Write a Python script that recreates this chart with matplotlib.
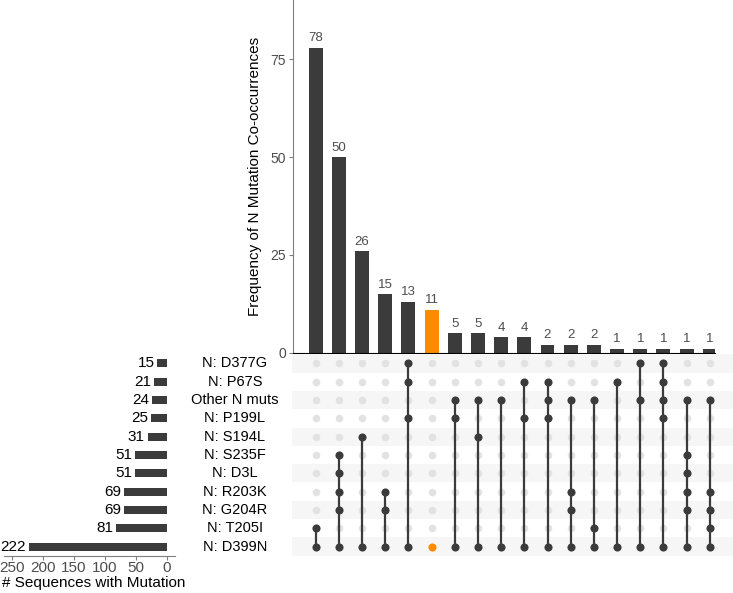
import matplotlib
matplotlib.use("Agg")
import matplotlib.pyplot as plt
import numpy as np

plt.rcParams["font.family"] = ["Liberation Sans", "DejaVu Sans"]

# set names, top row first
SETS = ["N: D377G", "N: P67S", "Other N muts", "N: P199L", "N: S194L", "N: S235F",
        "N: D3L", "N: R203K", "N: G204R", "N: T205I", "N: D399N"]
SET_SIZES = [15, 21, 24, 25, 31, 51, 51, 69, 69, 81, 222]

# intersections (sorted by frequency) and their member sets
FREQ = [78, 50, 26, 15, 13, 11, 5, 5, 4, 4, 2, 2, 2, 1, 1, 1, 1, 1]
MEMBERS = [
    ["N: T205I", "N: D399N"],
    ["N: S235F", "N: D3L", "N: R203K", "N: G204R", "N: D399N"],
    ["N: S194L", "N: D399N"],
    ["N: R203K", "N: G204R", "N: D399N"],
    ["N: D377G", "N: P67S", "N: P199L", "N: D399N"],
    ["N: D399N"],
    ["Other N muts", "N: P199L", "N: D399N"],
    ["Other N muts", "N: S194L", "N: D399N"],
    ["Other N muts", "N: D399N"],
    ["N: P67S", "N: P199L", "N: D399N"],
    ["N: P67S", "Other N muts", "N: P199L", "N: D399N"],
    ["Other N muts", "N: R203K", "N: G204R", "N: D399N"],
    ["Other N muts", "N: T205I", "N: D399N"],
    ["N: P67S", "N: D399N"],
    ["N: D377G", "Other N muts", "N: D399N"],
    ["N: D377G", "N: P67S", "Other N muts", "N: P199L", "N: D399N"],
    ["Other N muts", "N: S235F", "N: D3L", "N: R203K", "N: G204R", "N: D399N"],
    ["Other N muts", "N: R203K", "N: G204R", "N: T205I", "N: D399N"],
]
HIGHLIGHT = 5  # the D399N-only intersection

DARK = "#3b3b3b"
ORANGE = "#ff8c00"
TICK = "#4d4d4d"
AX = "#7f7f7f"

W, H = 733, 593
fig = plt.figure(figsize=(W / 100, H / 100), dpi=100)


def box(x0, y0, x1, y1):
    # pixel box -> figure fraction
    return [x0 / W, 1 - y1 / H, (x1 - x0) / W, (y1 - y0) / H]


x0_col, dx = 315.7, 23.18
to_u = lambda px: (px - x0_col) / dx
n_sets = len(SETS)
ypos = {s: n_sets - 1 - i for i, s in enumerate(SETS)}
xs = np.arange(len(FREQ))
colors = [ORANGE if i == HIGHLIGHT else DARK for i in xs]

# top: intersection sizes
ax = fig.add_axes(box(293, 0, 715, 352.7))
ax.bar(xs, FREQ, width=0.6, color=colors)
for x, v in zip(xs, FREQ):
    ax.annotate(str(v), (x, v), xytext=(0, 2.5), textcoords="offset points",
                ha="center", va="bottom", fontsize=9.5, color=TICK)
ax.set_xlim(to_u(293), to_u(715))
ax.set_ylim(0, 90.2)
ax.set_yticks([0, 25, 50, 75])
ax.set_xticks([])
ax.tick_params(axis="y", length=3, color=AX, labelsize=10, labelcolor=TICK, pad=2)
for s in ["top", "right"]:
    ax.spines[s].set_visible(False)
ax.spines["left"].set_color(AX)
ax.spines["bottom"].set_color("black")
ax.set_ylabel("Frequency of N Mutation Co-occurrences", fontsize=11, color="black", labelpad=6)

# matrix
mx = fig.add_axes(box(292, 354.2, 733, 555.8))
mx.set_xlim(to_u(292), to_u(733))
mx.set_ylim(-0.5, n_sets - 0.5)
for s in SETS:
    if ypos[s] % 2 == 0:
        mx.axhspan(ypos[s] - 0.5, ypos[s] + 0.5, color="#f6f6f6", lw=0, zorder=0)
gx, gy = np.meshgrid(xs, np.arange(n_sets))
mx.scatter(gx.ravel(), gy.ravel(), s=30, color="#e2e2e2", lw=0, zorder=1)
for x, mem in zip(xs, MEMBERS):
    ys = [ypos[m] for m in mem]
    c = ORANGE if x == HIGHLIGHT else DARK
    if len(ys) > 1:
        mx.plot([x, x], [min(ys), max(ys)], color=DARK, lw=1.6, zorder=2)
    mx.scatter([x] * len(ys), ys, s=34, color=c, lw=0, zorder=3)
mx.axis("off")

# left: set sizes
lx = fig.add_axes(box(3.9, 354.2, 174.5, 555.8))
lx.barh([ypos[s] for s in SETS], SET_SIZES, height=0.45, color=DARK)
for s, v in zip(SETS, SET_SIZES):
    lx.annotate(str(v), (v, ypos[s]), xytext=(-2, 0), textcoords="offset points",
                ha="right", va="center", fontsize=11, color="black")
lx.set_xlim(262.5, -12.5)
lx.set_ylim(-0.5, n_sets - 0.5)
lx.set_xticks([0, 50, 100, 150, 200, 250])
lx.set_yticks([])
lx.tick_params(axis="x", length=3, color=AX, labelsize=11, labelcolor=TICK, pad=1)
for s in ["top", "right", "left"]:
    lx.spines[s].set_visible(False)
lx.spines["bottom"].set_color(AX)
fig.text(93.5 / W, 1 - 583 / H, "# Sequences with Mutation", ha="center", va="center",
         fontsize=11, color="black")

# set labels between the two panels
for s in SETS:
    y = 354.2 + (n_sets - 1 - ypos[s] + 0.5) * (555.8 - 354.2) / n_sets
    fig.text(235 / W, 1 - y / H, s, ha="center", va="center", fontsize=10.5, color="black")

fig.savefig("out.png", dpi=100)
